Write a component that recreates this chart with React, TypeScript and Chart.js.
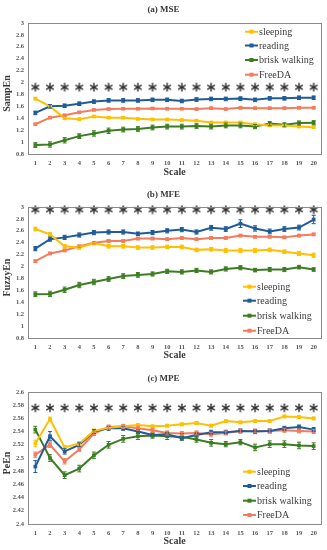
import React, { useEffect, useRef } from "react";
import { Chart, registerables } from "chart.js";
Chart.register(...registerables);

const scaleLabels = ["1","2","3","4","5","6","7","8","9","10","11","12","13","14","15","16","17","18","19","20"];
const seriesNames = ["sleeping", "reading", "brisk walking", "FreeDA"];
const seriesColors = ["#FFC000", "#1F5C99", "#3C7D22", "#F47C5C"];

// (a) MSE
const mseSleeping = [1.73,1.60,1.40,1.385,1.43,1.41,1.41,1.39,1.38,1.38,1.37,1.36,1.33,1.33,1.33,1.30,1.28,1.28,1.26,1.25];
const mseReading = [1.49,1.60,1.61,1.645,1.68,1.70,1.70,1.70,1.71,1.71,1.69,1.715,1.725,1.725,1.73,1.71,1.735,1.735,1.745,1.745];
const mseWalking = [0.95,0.96,1.03,1.10,1.145,1.19,1.21,1.22,1.245,1.26,1.26,1.27,1.26,1.28,1.28,1.26,1.31,1.29,1.32,1.325];
const mseFreeDA = [1.30,1.41,1.45,1.50,1.54,1.555,1.56,1.56,1.565,1.56,1.56,1.555,1.57,1.555,1.575,1.57,1.57,1.57,1.575,1.575];
const mseSleepingErr = [0.02,0.015,0.015,0.015,0.015,0.015,0.015,0.015,0.015,0.015,0.015,0.015,0.015,0.015,0.015,0.015,0.015,0.015,0.015,0.015];
const mseReadingErr = [0.03,0.03,0.03,0.03,0.03,0.03,0.03,0.03,0.03,0.03,0.03,0.03,0.03,0.03,0.03,0.03,0.03,0.03,0.03,0.03];
const mseWalkingErr = [0.04,0.045,0.045,0.04,0.045,0.045,0.04,0.04,0.04,0.04,0.04,0.04,0.04,0.04,0.04,0.035,0.035,0.035,0.035,0.035];
const mseFreeDAErr = [0.015,0.015,0.015,0.015,0.015,0.015,0.015,0.015,0.015,0.015,0.015,0.015,0.015,0.015,0.015,0.015,0.015,0.015,0.015,0.015];
const mseStars = Array(20).fill(1.92);

// (b) MFE
const mfeSleeping = [2.63,2.54,2.34,2.32,2.39,2.34,2.34,2.32,2.32,2.33,2.33,2.28,2.29,2.27,2.27,2.27,2.28,2.25,2.22,2.19];
const mfeReading = [2.30,2.46,2.49,2.53,2.57,2.58,2.58,2.55,2.57,2.60,2.62,2.58,2.65,2.63,2.72,2.64,2.59,2.63,2.655,2.79];
const mfeWalking = [1.535,1.54,1.61,1.69,1.74,1.79,1.84,1.86,1.875,1.92,1.91,1.935,1.91,1.96,1.98,1.94,1.95,1.95,1.99,1.95];
const mfeFreeDA = [2.09,2.22,2.27,2.34,2.40,2.43,2.43,2.47,2.47,2.46,2.48,2.46,2.48,2.48,2.52,2.50,2.50,2.49,2.52,2.54];
const mfeSleepingErr = [0.03,0.03,0.03,0.03,0.025,0.03,0.03,0.03,0.03,0.03,0.03,0.03,0.03,0.035,0.035,0.035,0.03,0.03,0.035,0.035];
const mfeReadingErr = [0.035,0.035,0.035,0.035,0.035,0.035,0.035,0.03,0.035,0.035,0.035,0.035,0.04,0.04,0.065,0.045,0.04,0.04,0.04,0.07];
const mfeWalkingErr = [0.04,0.045,0.045,0.045,0.045,0.04,0.04,0.04,0.035,0.035,0.035,0.035,0.035,0.035,0.035,0.03,0.035,0.035,0.03,0.03];
const mfeFreeDAErr = [0.02,0.02,0.02,0.02,0.02,0.02,0.02,0.02,0.02,0.02,0.02,0.02,0.02,0.02,0.02,0.02,0.02,0.02,0.02,0.02];
const mfeStars = Array(20).fill(2.955);

// (c) MPE
const mpeSleeping = [2.522,2.559,2.516,2.522,2.541,2.546,2.548,2.55,2.548,2.549,2.551,2.553,2.549,2.556,2.554,2.556,2.556,2.563,2.562,2.560];
const mpeReading = [2.487,2.533,2.51,2.52,2.54,2.545,2.545,2.54,2.535,2.536,2.530,2.535,2.539,2.539,2.541,2.540,2.541,2.545,2.547,2.543];
const mpeWalking = [2.543,2.50,2.474,2.484,2.504,2.52,2.529,2.533,2.534,2.533,2.532,2.528,2.523,2.521,2.524,2.516,2.521,2.521,2.519,2.518];
const mpeFreeDA = [2.505,2.52,2.495,2.513,2.537,2.547,2.548,2.545,2.542,2.538,2.537,2.538,2.536,2.538,2.541,2.541,2.541,2.542,2.541,2.540];
const mpeSleepingErr = [0.005,0.003,0.003,0.003,0.003,0.002,0.002,0.002,0.002,0.002,0.002,0.002,0.002,0.002,0.002,0.002,0.002,0.002,0.002,0.002];
const mpeReadingErr = [0.009,0.007,0.004,0.003,0.003,0.003,0.003,0.003,0.003,0.003,0.003,0.003,0.003,0.003,0.003,0.003,0.003,0.003,0.003,0.003];
const mpeWalkingErr = [0.005,0.005,0.005,0.005,0.005,0.005,0.005,0.005,0.004,0.005,0.005,0.004,0.005,0.004,0.004,0.005,0.005,0.005,0.005,0.005];
const mpeFreeDAErr = [0.004,0.004,0.004,0.003,0.003,0.003,0.003,0.003,0.003,0.003,0.003,0.003,0.003,0.003,0.003,0.003,0.003,0.003,0.003,0.003];
const mpeStars = Array(20).fill(2.576);

const SERIF = "'Liberation Serif', 'Times New Roman', serif";
const TEXT = "#3a3a3a";

type PanelCfg = {
  title: string;
  yTitle: string;
  min: number;
  max: number;
  step: number;
  values: number[][];
  errors: number[][];
  stars: number[];
  height: number;
  padTop: number;
  xHeight: number;
  titleY: number;
  xTitleY: number;
  legendX: number;
  legendY: number[];
};

const panels: PanelCfg[] = [
  {
    title: "(a) MSE", yTitle: "SampEn", min: 0.8, max: 3, step: 0.2,
    values: [mseSleeping, mseReading, mseWalking, mseFreeDA],
    errors: [mseSleepingErr, mseReadingErr, mseWalkingErr, mseFreeDAErr],
    stars: mseStars, height: 180, padTop: 23, xHeight: 26, titleY: 10, xTitleY: 172,
    legendX: 245, legendY: [31.7, 45.5, 60, 74.7],
  },
  {
    title: "(b) MFE", yTitle: "FuzzyEn", min: 0.8, max: 3, step: 0.2,
    values: [mfeSleeping, mfeReading, mfeWalking, mfeFreeDA],
    errors: [mfeSleepingErr, mfeReadingErr, mfeWalkingErr, mfeFreeDAErr],
    stars: mfeStars, height: 180, padTop: 27, xHeight: 22, titleY: 14.3, xTitleY: 175.7,
    legendX: 243, legendY: [106.7, 120.7, 135.7, 150.7],
  },
  {
    title: "(c) MPE", yTitle: "PeEn", min: 2.4, max: 2.6, step: 0.02,
    values: [mpeSleeping, mpeReading, mpeWalking, mpeFreeDA],
    errors: [mpeSleepingErr, mpeReadingErr, mpeWalkingErr, mpeFreeDAErr],
    stars: mpeStars, height: 190, padTop: 32, xHeight: 26, titleY: 19, xTitleY: 181.7,
    legendX: 243, legendY: [111.7, 126, 140.7, 155],
  },
];

function makeStar(): HTMLCanvasElement {
  const c = document.createElement("canvas");
  c.width = 10;
  c.height = 10;
  const g = c.getContext("2d")!;
  g.strokeStyle = "#2e2e2e";
  g.lineWidth = 1.4;
  g.lineCap = "round";
  for (let k = 0; k < 3; k++) {
    const a = Math.PI / 2 + (k * Math.PI) / 3;
    g.beginPath();
    g.moveTo(5 + 3.8 * Math.cos(a), 5 + 3.8 * Math.sin(a));
    g.lineTo(5 - 3.8 * Math.cos(a), 5 - 3.8 * Math.sin(a));
    g.stroke();
  }
  return c;
}

function makeDecor(cfg: PanelCfg) {
  return {
    id: "decor",
    afterDatasetsDraw(chart: any) {
      const ctx = chart.ctx;
      const yScale = chart.scales.y;
      ctx.save();
      chart.data.datasets.forEach((ds: any, di: number) => {
        if (!ds.errs) return;
        const meta = chart.getDatasetMeta(di);
        ctx.strokeStyle = ds.borderColor;
        ctx.lineWidth = 1;
        ds.data.forEach((v: number, i: number) => {
          const e = ds.errs[i];
          const x = meta.data[i].x;
          const y1 = yScale.getPixelForValue(v - e);
          const y2 = yScale.getPixelForValue(v + e);
          ctx.beginPath();
          ctx.moveTo(x, y1); ctx.lineTo(x, y2);
          ctx.moveTo(x - 2, y1); ctx.lineTo(x + 2, y1);
          ctx.moveTo(x - 2, y2); ctx.lineTo(x + 2, y2);
          ctx.stroke();
        });
      });
      ctx.restore();
    },
    afterDraw(chart: any) {
      const ctx = chart.ctx;
      const a = chart.chartArea;
      ctx.save();
      ctx.strokeStyle = "#8a8a8a";
      ctx.lineWidth = 1;
      ctx.strokeRect(Math.round(a.left) + 0.5, Math.round(a.top) + 0.5, Math.round(a.right - a.left), Math.round(a.bottom - a.top));
      ctx.fillStyle = TEXT;
      ctx.textAlign = "center";
      ctx.textBaseline = "middle";
      ctx.font = `bold 9px ${SERIF}`;
      ctx.fillText(cfg.title, chart.width / 2, cfg.titleY);
      ctx.font = `bold 10px ${SERIF}`;
      ctx.fillText("Scale", (a.left + a.right) / 2, cfg.xTitleY);
      ctx.save();
      ctx.translate(7, (a.top + a.bottom) / 2 + 5);
      ctx.rotate(-Math.PI / 2);
      ctx.fillText(cfg.yTitle, 0, 0);
      ctx.restore();
      ctx.textAlign = "left";
      ctx.font = `10px ${SERIF}`;
      seriesNames.forEach((name, i) => {
        const y = cfg.legendY[i];
        const x0 = cfg.legendX;
        ctx.strokeStyle = seriesColors[i];
        ctx.fillStyle = seriesColors[i];
        ctx.lineWidth = 2;
        ctx.beginPath();
        ctx.moveTo(x0, y);
        ctx.lineTo(x0 + 13, y);
        ctx.stroke();
        ctx.fillRect(x0 + 6.5 - 2, y - 2, 4, 4);
        ctx.fillStyle = "#404040";
        ctx.fillText(name, x0 + 14, y + 0.5);
      });
      ctx.restore();
    },
  };
}

function buildConfig(cfg: PanelCfg, star: HTMLCanvasElement): any {
  const tickFont = { family: SERIF, size: 6.5, weight: "bold" as const };
  const datasets: any[] = cfg.values.map((vals, i) => ({
    label: seriesNames[i],
    data: vals,
    errs: cfg.errors[i],
    borderColor: seriesColors[i],
    backgroundColor: seriesColors[i],
    borderWidth: 2,
    pointStyle: "rect",
    pointRadius: 2.6,
    pointBorderWidth: 0,
    tension: 0,
    clip: false,
  }));
  datasets.push({
    label: "significance",
    data: cfg.stars,
    showLine: false,
    pointStyle: star,
    pointRadius: 5,
    borderColor: "#2e2e2e",
    backgroundColor: "#2e2e2e",
    clip: false,
  });
  return {
    type: "line",
    data: { labels: scaleLabels, datasets },
    options: {
      responsive: false,
      animation: false,
      devicePixelRatio: 1,
      events: [],
      layout: { padding: { top: cfg.padTop, right: 6, left: 0, bottom: 0 } },
      plugins: { legend: { display: false }, tooltip: { enabled: false }, title: { display: false } },
      scales: {
        x: {
          offset: true,
          grid: { display: false, drawTicks: false, offset: true },
          border: { display: false },
          ticks: { font: tickFont, color: "#555", padding: 5, maxRotation: 0, autoSkip: false },
          afterFit: (s: any) => { s.height = cfg.xHeight; },
        },
        y: {
          min: cfg.min,
          max: cfg.max,
          grid: { display: false, drawTicks: false },
          border: { display: false },
          ticks: {
            stepSize: cfg.step,
            font: tickFont,
            color: "#555",
            padding: 4,
            callback: (v: any) => String(Math.round(Number(v) * 100) / 100),
          },
          afterFit: (s: any) => { s.width = 28; },
        },
      },
    },
    plugins: [makeDecor(cfg)],
  };
}

function Panel({ cfg }: { cfg: PanelCfg }) {
  const ref = useRef<HTMLCanvasElement>(null);
  useEffect(() => {
    const chart = new Chart(ref.current!, buildConfig(cfg, makeStar()));
    return () => chart.destroy();
  }, [cfg]);
  return (
    <canvas
      ref={ref}
      width={327}
      height={cfg.height}
      style={{ display: "block", width: 327, height: cfg.height }}
    />
  );
}

export default function App() {
  return (
    <div style={{ position: "absolute", left: 0, top: 0, width: 327, height: 550, background: "#fff" }}>
      {panels.map((p) => (
        <Panel key={p.title} cfg={p} />
      ))}
    </div>
  );
}
